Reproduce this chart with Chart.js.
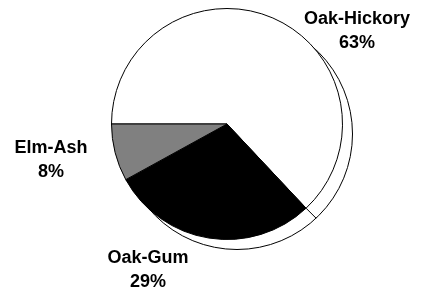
<!DOCTYPE html>
<html>
<head>
<meta charset="utf-8">
<script src="https://cdn.jsdelivr.net/npm/chart.js@4/dist/chart.umd.min.js"></script>
<style>
  html, body { margin: 0; padding: 0; background: #fff; }
  #wrap { width: 422px; height: 291px; }
</style>
</head>
<body>
<div id="wrap"><canvas id="myChart" width="422" height="291"></canvas></div>
<script>
const forestTypes = ["Oak-Hickory", "Oak-Gum", "Elm-Ash"];
const percents = [63, 29, 8];
const sliceColors = ["#ffffff", "#000000", "#808080"];

// where each label block sits (centre, as a share of the canvas)
const labelSpots = [
  { x: 357 / 422, y: 31 / 291 },
  { x: 148 / 422, y: 270 / 291 },
  { x: 51 / 422, y: 160 / 291 },
];

// flat white "shadow" disc behind the pie, offset down-right
const shadowPlugin = {
  id: "shadow",
  beforeDatasetsDraw(chart) {
    const arcs = chart.getDatasetMeta(0).data;
    if (!arcs.length) return;
    const { x, y, outerRadius } = arcs[0];
    const off = 10;
    const ctx = chart.ctx;
    ctx.save();
    ctx.lineWidth = 1;
    ctx.strokeStyle = "#000";
    ctx.fillStyle = "#fff";
    ctx.beginPath();
    ctx.arc(x + off, y + off, outerRadius, 0, Math.PI * 2);
    ctx.fill();
    ctx.stroke();
    arcs.forEach((a) => {
      const px = x + outerRadius * Math.cos(a.startAngle);
      const py = y + outerRadius * Math.sin(a.startAngle);
      ctx.beginPath();
      ctx.moveTo(px, py);
      ctx.lineTo(px + off, py + off);
      ctx.stroke();
    });
    ctx.restore();
  },
};

const labelPlugin = {
  id: "sliceLabels",
  afterDatasetsDraw(chart) {
    const ctx = chart.ctx;
    ctx.save();
    ctx.fillStyle = "#000";
    ctx.font = "bold 18px 'Liberation Sans', Arial, sans-serif";
    ctx.textAlign = "center";
    ctx.textBaseline = "middle";
    forestTypes.forEach((name, i) => {
      const cx = labelSpots[i].x * chart.width;
      const cy = labelSpots[i].y * chart.height;
      ctx.fillText(name, cx, cy - 12);
      ctx.fillText(percents[i] + "%", cx, cy + 12);
    });
    ctx.restore();
  },
};

const data = {
  labels: forestTypes,
  datasets: [
    {
      data: percents,
      backgroundColor: sliceColors,
      borderColor: "#000000",
      borderWidth: 1,
    },
  ],
};

const config = {
  type: "pie",
  data: data,
  options: {
    responsive: false,
    animation: false,
    events: [],
    rotation: -90,
    layout: {
      padding: { left: 111, top: 8, right: 79, bottom: 51 },
    },
    plugins: {
      legend: { display: false },
      tooltip: { enabled: false },
    },
  },
  plugins: [shadowPlugin, labelPlugin],
};

const myChart = new Chart(document.getElementById("myChart"), config);
</script>
</body>
</html>
